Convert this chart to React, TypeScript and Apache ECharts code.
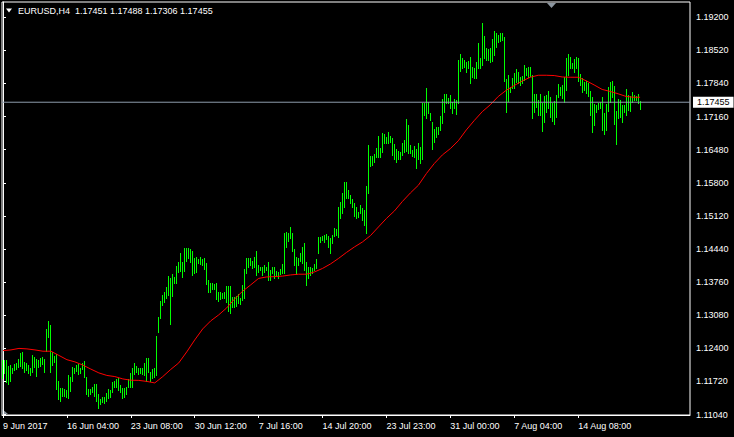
import React, { useEffect, useRef } from "react";
import * as echarts from "echarts";

const SYMBOL = "EURUSD,H4";
const LAST_OHLC = [1.17451, 1.17488, 1.17306, 1.17455];
const BID = 1.17455;

const highs = [
  1.12162, 1.12162, 1.12162, 1.12038, 1.12059, 1.11997, 1.12079, 1.121, 1.12182, 1.12305,
  1.12326, 1.1212, 1.121, 1.12059, 1.11997, 1.12264, 1.12223, 1.12182, 1.12162, 1.12203,
  1.12223, 1.12182, 1.12798, 1.12963, 1.1288, 1.12326, 1.12244, 1.12285, 1.1173, 1.11586,
  1.11586, 1.11566, 1.11545, 1.11854, 1.11812, 1.12018, 1.11997, 1.12059, 1.12079, 1.11997,
  1.121, 1.12141, 1.11812, 1.11566, 1.11566, 1.11607, 1.11669, 1.11669, 1.11463, 1.1136,
  1.11402, 1.11402, 1.11484, 1.11566, 1.11545, 1.1171, 1.1173, 1.11771, 1.11792, 1.11648,
  1.11586, 1.11586, 1.11607, 1.11771, 1.11895, 1.11997, 1.121, 1.12038, 1.11997, 1.11997,
  1.11997, 1.121, 1.12203, 1.12203, 1.11915, 1.11977, 1.11997, 1.12655, 1.13045, 1.13374,
  1.13497, 1.13558, 1.13661, 1.13887, 1.13846, 1.13928, 1.13866, 1.14092, 1.14175, 1.14359,
  1.14175, 1.14462, 1.14462, 1.14462, 1.14442, 1.144, 1.14257, 1.14277, 1.14236, 1.14277,
  1.14236, 1.14257, 1.14154, 1.13805, 1.13743, 1.13743, 1.13723, 1.13743, 1.13558, 1.13558,
  1.13538, 1.13558, 1.13682, 1.13682, 1.13682, 1.13456, 1.13456, 1.13476, 1.13517, 1.13435,
  1.13702, 1.14031, 1.14257, 1.14257, 1.14257, 1.14195, 1.14277, 1.144, 1.14113, 1.14072,
  1.14072, 1.14113, 1.14072, 1.14175, 1.1401, 1.14072, 1.14072, 1.1399, 1.13969, 1.14031,
  1.14133, 1.1477, 1.14791, 1.1477, 1.14893, 1.1477, 1.14442, 1.14277, 1.14257, 1.14359,
  1.14483, 1.14565, 1.14175, 1.14072, 1.14072, 1.14051, 1.14133, 1.14236, 1.14688, 1.14688,
  1.14709, 1.14729, 1.1475, 1.14709, 1.14668, 1.14729, 1.14873, 1.14852, 1.15304, 1.15407,
  1.15592, 1.15818, 1.15818, 1.15653, 1.15551, 1.15469, 1.15386, 1.15304, 1.15202, 1.15345,
  1.15284, 1.15243, 1.15736, 1.16578, 1.16352, 1.16352, 1.16393, 1.16516, 1.16763, 1.16516,
  1.16824, 1.16804, 1.16742, 1.16845, 1.16763, 1.16722, 1.16598, 1.16496, 1.16455, 1.16434,
  1.16619, 1.1668, 1.17112, 1.16989, 1.16578, 1.16475, 1.16557, 1.16496, 1.16619, 1.16537,
  1.1744, 1.1744, 1.17749, 1.17461, 1.17235, 1.1705, 1.16906, 1.16947, 1.16947, 1.17173,
  1.17523, 1.17625, 1.17625, 1.17543, 1.17605, 1.17461, 1.17523, 1.17502, 1.18324, 1.18447,
  1.18365, 1.18324, 1.18283, 1.18303, 1.18385, 1.1818, 1.18159, 1.18283, 1.18673, 1.18365,
  1.19084, 1.18817, 1.1857, 1.1855, 1.1857, 1.18755, 1.18919, 1.18878, 1.18837, 1.18878,
  1.18878, 1.18796, 1.17933, 1.18016, 1.17769, 1.17954, 1.18057, 1.18139, 1.18077, 1.17974,
  1.17995, 1.18221, 1.18159, 1.1818, 1.1818, 1.18016, 1.17625, 1.17625, 1.17502, 1.17625,
  1.1744, 1.17584, 1.17605, 1.17687, 1.17564, 1.1744, 1.17482, 1.17605, 1.17831, 1.17769,
  1.1781, 1.17974, 1.18365, 1.18447, 1.18385, 1.18262, 1.18344, 1.18385, 1.18365, 1.18036,
  1.17954, 1.17872, 1.17892, 1.17851, 1.17687, 1.17564, 1.1742, 1.17399, 1.1744, 1.17461,
  1.17564, 1.17235, 1.1742, 1.17769, 1.17872, 1.17892, 1.1779, 1.17276, 1.17523, 1.17502,
  1.17399, 1.17399, 1.17728, 1.17605, 1.17584, 1.17666, 1.17605, 1.17584, 1.17625, 1.17488,
];

const lows = [
  1.11792, 1.11895, 1.1171, 1.11669, 1.1173, 1.11895, 1.11956, 1.11977, 1.12018, 1.12038,
  1.11997, 1.11915, 1.11956, 1.11895, 1.11854, 1.11915, 1.12018, 1.11833, 1.12018, 1.12038,
  1.12079, 1.11915, 1.12346, 1.12634, 1.11915, 1.12059, 1.1212, 1.11566, 1.1136, 1.11319,
  1.11422, 1.11422, 1.11402, 1.11381, 1.11525, 1.1173, 1.11895, 1.11936, 1.11874, 1.11895,
  1.11977, 1.11812, 1.11463, 1.11422, 1.11463, 1.11504, 1.11422, 1.11319, 1.11176, 1.11258,
  1.11299, 1.11278, 1.11319, 1.11381, 1.11402, 1.11504, 1.11607, 1.11607, 1.11545, 1.11504,
  1.11381, 1.11402, 1.11463, 1.11607, 1.11607, 1.11607, 1.11874, 1.11915, 1.11874, 1.11895,
  1.11874, 1.11854, 1.1173, 1.11915, 1.1173, 1.11792, 1.11812, 1.11854, 1.12737, 1.13024,
  1.13291, 1.13353, 1.13435, 1.13497, 1.12901, 1.13476, 1.13743, 1.13743, 1.13969, 1.1399,
  1.13866, 1.1399, 1.14195, 1.14257, 1.14175, 1.13908, 1.13949, 1.13969, 1.14154, 1.14133,
  1.14113, 1.14031, 1.13723, 1.13558, 1.13558, 1.1362, 1.1362, 1.13415, 1.13374, 1.13415,
  1.13435, 1.13435, 1.13353, 1.13168, 1.13127, 1.1325, 1.1325, 1.13271, 1.13332, 1.13312,
  1.13394, 1.13435, 1.13949, 1.14072, 1.14113, 1.14051, 1.14072, 1.13908, 1.13969, 1.1401,
  1.13908, 1.13969, 1.1401, 1.13805, 1.13805, 1.13949, 1.13846, 1.13887, 1.13846, 1.13928,
  1.13949, 1.13949, 1.14483, 1.14606, 1.14668, 1.144, 1.14113, 1.13928, 1.14113, 1.14195,
  1.14154, 1.1401, 1.13702, 1.13846, 1.13908, 1.13949, 1.1401, 1.14051, 1.14359, 1.14585,
  1.14626, 1.14585, 1.14647, 1.14483, 1.14359, 1.14565, 1.14709, 1.14729, 1.14688, 1.15078,
  1.15181, 1.15304, 1.15489, 1.15489, 1.15386, 1.15304, 1.15119, 1.15078, 1.15099, 1.15181,
  1.15037, 1.14935, 1.1477, 1.15592, 1.16146, 1.16167, 1.16229, 1.16331, 1.16331, 1.16331,
  1.16434, 1.16619, 1.16619, 1.16619, 1.16639, 1.16372, 1.1629, 1.16229, 1.1629, 1.1629,
  1.16372, 1.16434, 1.16455, 1.16413, 1.16413, 1.16352, 1.16331, 1.16105, 1.1629, 1.16208,
  1.1629, 1.17194, 1.17132, 1.17235, 1.17091, 1.16496, 1.16639, 1.16742, 1.16804, 1.16886,
  1.1703, 1.17256, 1.1744, 1.1744, 1.17338, 1.17235, 1.17338, 1.17214, 1.1744, 1.18098,
  1.18159, 1.1818, 1.18077, 1.18159, 1.17851, 1.17974, 1.17954, 1.17954, 1.18159, 1.18159,
  1.18221, 1.18365, 1.18324, 1.18324, 1.18283, 1.18303, 1.18426, 1.18591, 1.18693, 1.18714,
  1.18734, 1.17892, 1.17256, 1.17482, 1.17666, 1.17749, 1.17749, 1.17872, 1.17851, 1.1781,
  1.17851, 1.17913, 1.18016, 1.17974, 1.17995, 1.17132, 1.17256, 1.17358, 1.17194, 1.17194,
  1.16865, 1.1705, 1.17256, 1.17338, 1.17153, 1.17071, 1.17009, 1.17153, 1.17564, 1.17605,
  1.17543, 1.17461, 1.17707, 1.18016, 1.18159, 1.18159, 1.18077, 1.18159, 1.17892, 1.1781,
  1.17666, 1.17707, 1.17646, 1.17584, 1.17194, 1.16845, 1.16989, 1.17256, 1.17317, 1.17338,
  1.16886, 1.16804, 1.16886, 1.17276, 1.17461, 1.17564, 1.17009, 1.16598, 1.17132, 1.17153,
  1.1705, 1.17256, 1.17194, 1.17297, 1.17276, 1.17461, 1.17502, 1.17502, 1.1744, 1.17306,
];

// moving average read every 4th bar (last point on the final bar)
const MA_STEP = 4;
const maValues = [
  1.12353, 1.12367, 1.12398, 1.12388, 1.12367, 1.1234, 1.1234, 1.12254, 1.12166, 1.12121,
  1.12055, 1.11973, 1.11895, 1.11843, 1.11819, 1.11771, 1.11745, 1.11741, 1.1172, 1.11689,
  1.11819, 1.11966, 1.121, 1.12326, 1.12572, 1.12798, 1.12963, 1.13086, 1.1323, 1.13415,
  1.13573, 1.13702, 1.13836, 1.13866, 1.13873, 1.13883, 1.13907, 1.13922, 1.13922, 1.13969,
  1.14041, 1.14133, 1.14246, 1.1437, 1.14483, 1.14585, 1.14715, 1.14893, 1.15068, 1.15222,
  1.15417, 1.15592, 1.1575, 1.1599, 1.16198, 1.16372, 1.16502, 1.16664, 1.16886, 1.17081,
  1.17262, 1.17403, 1.17574, 1.17701, 1.17798, 1.17892, 1.17968, 1.18009, 1.18009, 1.18003,
  1.17974, 1.17968, 1.17968, 1.17896, 1.1781, 1.17718, 1.17677, 1.17629, 1.17574, 1.17557,
  1.17557,
];

const SLOTS = 344;
const xTickBars = [0, 32, 64, 96, 128, 160, 192, 224, 256, 288];
const xTickLabels = [
  "9 Jun 2017", "16 Jun 04:00", "23 Jun 08:00", "30 Jun 12:00", "7 Jul 16:00",
  "14 Jul 20:00", "23 Jul 23:00", "31 Jul 00:00", "7 Aug 04:00", "14 Aug 08:00",
];
const yTicks = [
  1.1104, 1.1172, 1.124, 1.1308, 1.1376, 1.1444, 1.1512, 1.158, 1.1648, 1.1716,
  1.1784, 1.1852, 1.192,
];

const FONT = "Liberation Sans";

export default function App() {
  const ref = useRef<HTMLDivElement>(null);
  useEffect(() => {
    if (!ref.current) return;
    const chart = echarts.init(ref.current, null, { renderer: "svg" });
    const bars = highs.map((h, i) => [i, h, lows[i]]);
    const ma = maValues.map((v, k) => [Math.min(k * MA_STEP, highs.length - 1), v]);
    const header =
      SYMBOL + "\u00a0\u00a0" + LAST_OHLC.map((v) => v.toFixed(5)).join(" ");
    chart.setOption({
      animation: false,
      backgroundColor: "#000000",
      grid: {
        left: 1,
        top: 2,
        right: 44,
        bottom: 22,
        show: true,
        borderColor: "#ffffff",
        borderWidth: 1,
        backgroundColor: "#000000",
      },
      xAxis: {
        type: "value",
        min: -0.5,
        max: SLOTS,
        axisLine: { show: true, lineStyle: { color: "#ffffff", width: 1 } },
        axisTick: {
          show: true,
          customValues: xTickBars,
          length: 3,
          lineStyle: { color: "#ffffff" },
        },
        axisLabel: {
          customValues: xTickBars,
          formatter: (v: number) => {
            const k = xTickBars.indexOf(Math.round(v));
            return k >= 0 ? xTickLabels[k] : "";
          },
          color: "#ffffff",
          fontFamily: FONT,
          fontSize: 9,
          align: "left",
          margin: 6,
        },
        splitLine: { show: false },
      },
      yAxis: {
        type: "value",
        position: "right",
        min: 1.1103,
        max: 1.19514,
        axisLine: { show: true, lineStyle: { color: "#ffffff", width: 1 } },
        axisTick: {
          show: true,
          customValues: yTicks,
          length: 3,
          lineStyle: { color: "#ffffff" },
        },
        axisLabel: {
          customValues: yTicks,
          formatter: (v: number) => v.toFixed(5),
          color: "#ffffff",
          fontFamily: FONT,
          fontSize: 9,
          margin: 6,
        },
        splitLine: { show: false },
      },
      series: [
        {
          type: "custom",
          data: bars,
          encode: { x: 0, y: [1, 2] },
          clip: true,
          silent: true,
          renderItem: (_params: any, api: any) => {
            const top = api.coord([api.value(0), api.value(1)]);
            const bot = api.coord([api.value(0), api.value(2)]);
            const x = Math.floor(top[0]) + 0.5;
            return {
              type: "line",
              shape: { x1: x, y1: Math.round(top[1]), x2: x, y2: Math.round(bot[1]) + 1 },
              style: { stroke: "#00ff00", lineWidth: 1 },
            };
          },
        },
        {
          type: "line",
          data: ma,
          symbol: "none",
          silent: true,
          lineStyle: { color: "#ff0000", width: 1 },
          emphasis: { disabled: true },
        },
        {
          type: "line",
          data: [[-0.5, BID], [SLOTS, BID]],
          symbol: "none",
          silent: true,
          clip: false,
          z: 5,
          lineStyle: { color: "#8e9bab", width: 1 },
          emphasis: { disabled: true },
          endLabel: {
            show: true,
            distance: 3,
            formatter: () => BID.toFixed(5),
            color: "#000000",
            backgroundColor: "#ffffff",
            fontFamily: FONT,
            fontSize: 9,
            padding: [1, 4, 1, 4],
          },
        },
      ],
      graphic: [
        {
          type: "polygon",
          silent: true,
          shape: { points: [[6, 8.5], [12, 8.5], [9, 12.5]] },
          style: { fill: "#ffffff" },
        },
        {
          type: "text",
          silent: true,
          style: {
            text: header,
            x: 18,
            y: 10.5,
            fill: "#ffffff",
            font: `9px "${FONT}"`,
            verticalAlign: "middle",
          },
        },
        {
          type: "polygon",
          silent: true,
          shape: { points: [[547, 3], [556, 3], [551.5, 8]] },
          style: { fill: "#8c96a0" },
        },
        {
          type: "polygon",
          silent: true,
          shape: { points: [[2, 409], [2, 414], [8, 414]] },
          style: { fill: "#8c96a0" },
        },
      ],
    });
    return () => chart.dispose();
  }, []);
  return (
    <div
      ref={ref}
      style={{ position: "fixed", left: 0, top: 0, width: 734, height: 437, background: "#000" }}
    />
  );
}
